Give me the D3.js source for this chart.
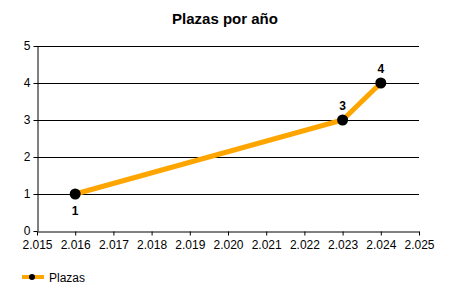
<!DOCTYPE html>
<meta charset="utf-8">
<style>
body{ margin:0; background:#fff; }
text{ font-family:"Liberation Sans", Arial, sans-serif; fill:#000; }
.tick text{ font-size:12px; }
.header{ font-size:15px; font-weight:bold; text-anchor:middle; }
.lbl{ font-size:12px; font-weight:bold; text-anchor:middle; }
</style>
<body>
<script src="https://d3js.org/d3.v7.min.js"></script>
<script>
var years = [2016, 2023, 2024];
var plazas = [1, 3, 4];
var yTicks = [0, 1, 2, 3, 4, 5];
var xTicks = [2015, 2016, 2017, 2018, 2019, 2020, 2021, 2022, 2023, 2024, 2025];
var seriesName = "Plazas";
var title = "Plazas por año";

var W = 450, H = 300;
var m = {left:37, right:31, top:46, bottom:69};

var svg = d3.select("body").append("svg").attr("width", W).attr("height", H);

var x = d3.scaleLinear().domain([2015, 2025]).range([m.left, W - m.right]);
var y = d3.scaleLinear().domain([0, 5]).range([H - m.bottom, m.top]);

// years shown with a dot as thousands separator
var loc = d3.formatLocale({decimal:",", thousands:".", grouping:[3], currency:["",""]});
var fmt = loc.format(",");

svg.append("text").attr("class","header").attr("x", W/2).attr("y", 24).text(title);

// grid
svg.append("g").selectAll("line").data(yTicks.slice(1)).join("line")
	.attr("x1", x(2015)).attr("x2", x(2025))
	.attr("y1", d => y(d) + 0.5).attr("y2", d => y(d) + 0.5)
	.attr("stroke", "#000").attr("stroke-width", 1);

var ya = svg.append("g").attr("transform", "translate(" + (m.left + 0.5) + ",0)")
	.call(d3.axisLeft(y).tickValues(yTicks).tickFormat(d3.format("d")).tickSize(4).tickSizeOuter(0).tickPadding(3));
var xa = svg.append("g").attr("transform", "translate(0," + (y(0) + 0.5) + ")")
	.call(d3.axisBottom(x).tickValues(xTicks).tickFormat(fmt).tickSize(4).tickSizeOuter(0).tickPadding(5));
[ya, xa].forEach(function(a){
	a.select(".domain").attr("stroke", "#000");
	a.selectAll(".tick line").attr("stroke", "#000");
	a.selectAll(".tick text").style("font-family", "'Liberation Sans', Arial, sans-serif").style("font-size", "12px");
});
ya.selectAll(".tick text").attr("dy", "0.25em");

var pts = years.map((d, i) => [d, plazas[i]]);

svg.append("path").datum(pts)
	.attr("fill", "none").attr("stroke", "#FFA500").attr("stroke-width", 5)
	.attr("d", d3.line().x(d => x(d[0])).y(d => y(d[1])));

svg.append("g").selectAll("circle").data(pts).join("circle")
	.attr("cx", d => x(d[0])).attr("cy", d => y(d[1])).attr("r", 5.5).attr("fill", "#000");

svg.append("g").selectAll("text").data(pts).join("text").attr("class","lbl")
	.attr("x", d => x(d[0]))
	.attr("y", (d, i) => i == 0 ? y(d[1]) + 21 : y(d[1]) - 10)
	.text(d => d[1]);

// legend
var lg = svg.append("g").attr("transform", "translate(22,277)");
lg.append("line").attr("x1", 0).attr("x2", 22).attr("stroke", "#FFA500").attr("stroke-width", 4);
lg.append("circle").attr("cx", 10).attr("r", 3).attr("fill", "#000");
lg.append("text").attr("x", 27).attr("y", 5).style("font-size", "12px").text(seriesName);
</script>
</body>
